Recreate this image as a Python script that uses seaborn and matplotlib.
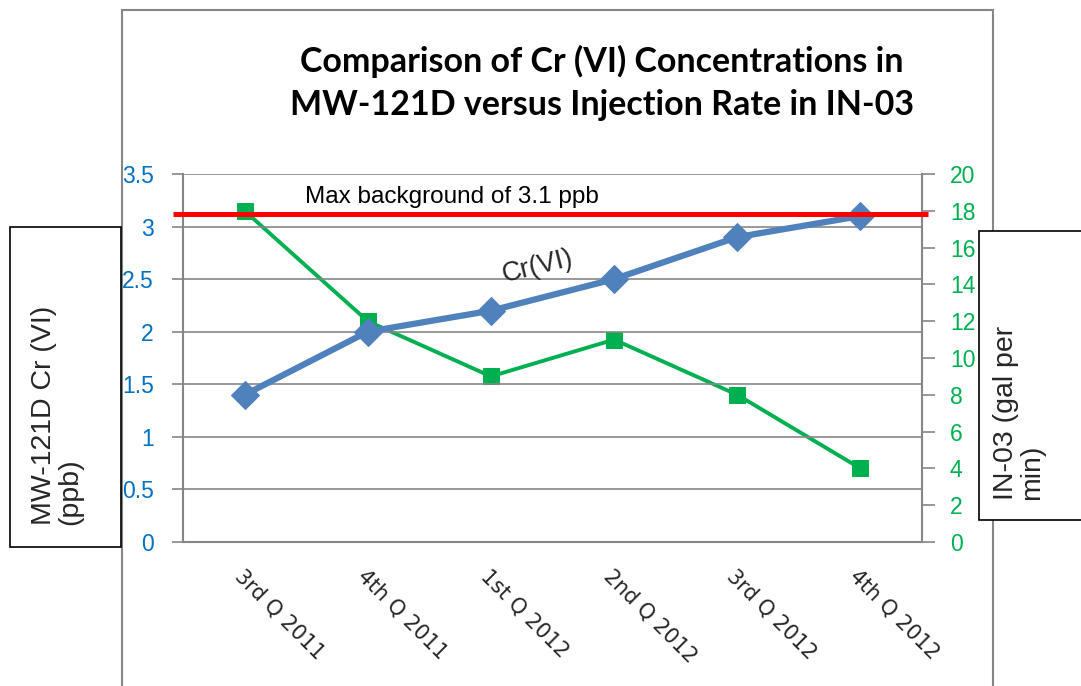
import matplotlib
matplotlib.use("Agg")
import matplotlib.pyplot as plt
import seaborn as sns
import pandas as pd
import numpy as np
from matplotlib.patches import Rectangle

quarters = ["3rd Q 2011", "4th Q 2011", "1st Q 2012", "2nd Q 2012", "3rd Q 2012", "4th Q 2012"]
cr_vi = [1.4, 2.0, 2.2, 2.5, 2.9, 3.1]
injection_rate = [18, 12, 9, 11, 8, 4]
max_background = 3.1
left_ticks = [0, 0.5, 1, 1.5, 2, 2.5, 3, 3.5]
left_tick_labels = ["0", "0.5", "1", "1.5", "2", "2.5", "3", "3.5"]
right_ticks = [0, 2, 4, 6, 8, 10, 12, 14, 16, 18, 20]

BLUE = "#4F81BD"
GREEN = "#00B050"
TICKBLUE = "#0070C0"
GRAY = "#868686"

sns.set_theme(style="white")
plt.rcParams['font.family'] = ['Liberation Sans', 'DejaVu Sans']

df = pd.DataFrame({"pos": np.arange(len(quarters)), "quarter": quarters,
                   "cr": cr_vi, "rate": injection_rate})

W, H = 1081, 686
fig = plt.figure(figsize=(W / 100, H / 100), dpi=100)
ax = fig.add_axes([183 / W, 1 - 542 / H, (922 - 183) / W, (542 - 174) / H])
ax2 = ax.twinx()

# outer chart border
fig.patches.append(Rectangle((122 / W, -0.05), (993 - 122) / W, 1.05 - 10 / H,
                             transform=fig.transFigure, fill=False,
                             edgecolor=GRAY, linewidth=1.5, zorder=0))

# green series on secondary axis
sns.lineplot(data=df, x="pos", y="rate", ax=ax2, color=GREEN, linewidth=2.8,
             marker="s", markersize=11, markeredgecolor=GREEN, zorder=3)
# blue series on primary
sns.lineplot(data=df, x="pos", y="cr", ax=ax, color=BLUE, linewidth=4.5,
             marker="D", markersize=14, markeredgecolor=BLUE, zorder=3)

ax.set_zorder(ax2.get_zorder() + 1)
ax.patch.set_visible(False)

ax.set_xlim(-0.5, len(quarters) - 0.5)
ax.set_ylim(0, 3.5)
ax2.set_ylim(0, 20)

# gridlines
for t in left_ticks[1:]:
    ax.axhline(t, color=GRAY, linewidth=1.2, zorder=0)

# red max background line (slightly overhanging the plot area)
ax.hlines(max_background + 0.02, -0.014, 1.008, transform=ax.get_yaxis_transform(),
          color="#FF0000", linewidth=3.6, zorder=5, clip_on=False)
ax.text(0.165, 3.285, "Max background of 3.1 ppb", fontsize=17.5,
        transform=ax.get_yaxis_transform(),
        color="black", ha="left", va="center", zorder=6)
ax.text(2.38, 2.62, "Cr(VI)", fontsize=19.5, rotation=14, ha="center",
        va="center", zorder=6)

# x ticks
ax.set_xticks(np.arange(-0.5, len(quarters), 1.0))
ax.set_xticklabels([])
ax.set_xticks(np.arange(len(quarters)), minor=True)
ax.set_xticklabels(quarters, minor=True, rotation=-45, ha="left", va="top",
                   rotation_mode="anchor", fontsize=15, family="DejaVu Sans")
ax.tick_params(axis="x", which="minor", length=0, pad=17)
ax.tick_params(axis="x", which="major", length=8, width=1.2, color=GRAY, direction="out")

ax.set_yticks(left_ticks)
ax.set_yticklabels(left_tick_labels)
ax.tick_params(axis="y", length=8, width=1.2, color=GRAY, labelcolor=TICKBLUE,
               labelsize=16.5, pad=13, left=True, direction="out")
ax2.set_yticks(right_ticks)
ax2.tick_params(axis="y", length=9, width=1.2, color=GRAY, labelcolor=GREEN,
                labelsize=16.5, pad=11, right=True, direction="out")

for a in (ax, ax2):
    a.set_xlabel("")
    a.set_ylabel("")
    for s in a.spines.values():
        s.set_visible(False)
ax.spines["left"].set_visible(True)
ax.spines["bottom"].set_visible(True)
ax2.spines["right"].set_visible(True)
for s in (ax.spines["left"], ax.spines["bottom"], ax2.spines["right"]):
    s.set_color(GRAY)
    s.set_linewidth(1.5)
if ax.get_legend():
    ax.get_legend().remove()
if ax2.get_legend():
    ax2.get_legend().remove()

# title
fig.text(602 / W, 1 - 83 / H,
         "Comparison of Cr (VI) Concentrations in\nMW-121D versus Injection Rate in IN-03",
         ha="center", va="center", fontsize=24.5, fontweight="bold", color="black",
         family=["Lato", "DejaVu Sans"], linespacing=1.45)

# axis title boxes
fig.patches.append(Rectangle((10 / W, 1 - 547 / H), (121 - 10) / W, (547 - 227) / H,
                             transform=fig.transFigure, fill=True, facecolor="white",
                             edgecolor="black", linewidth=1.2, zorder=1))
fig.text(57 / W, 1 - 525 / H, "MW-121D Cr (VI)\n(ppb)", rotation=90,
         ha="center", va="bottom", multialignment="left",
         fontsize=20.5, linespacing=1.0, zorder=2)

fig.patches.append(Rectangle((979 / W, 1 - 520 / H), 0.2, (520 - 231) / H,
                             transform=fig.transFigure, fill=True, facecolor="white",
                             edgecolor="black", linewidth=1.2, zorder=1))
fig.text(1019 / W, 1 - 500 / H, "IN-03 (gal per\nmin)", rotation=90,
         ha="center", va="bottom", multialignment="left",
         fontsize=20.5, linespacing=1.0, zorder=2)

fig.savefig("out.png", dpi=100)
